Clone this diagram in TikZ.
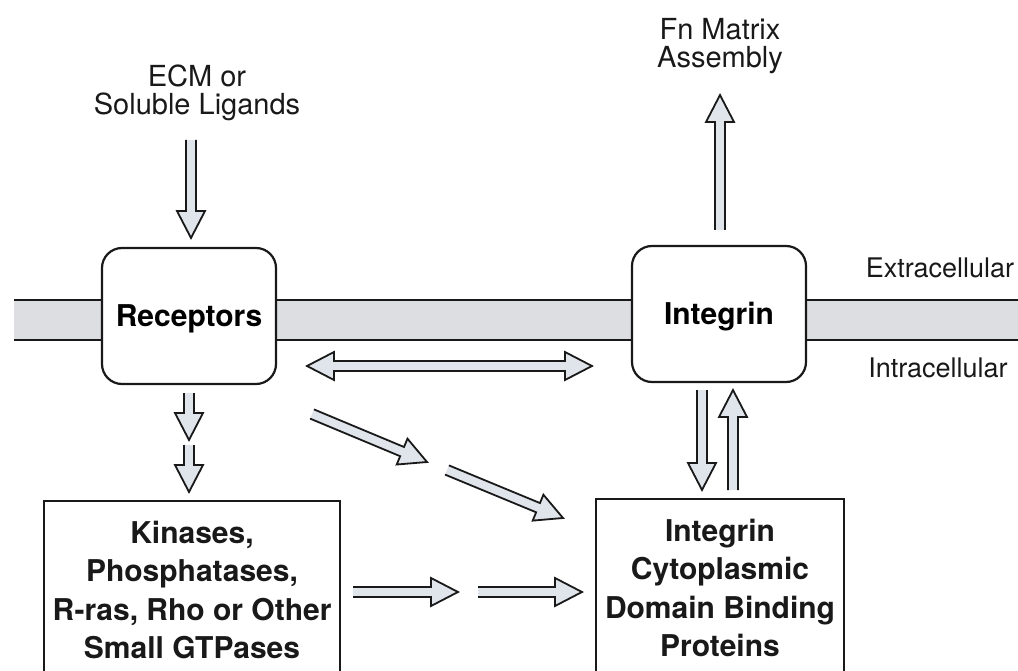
\documentclass[tikz,border=0pt]{standalone}
\usepackage{fontspec}
\setmainfont{TeX Gyre Heros}
\usetikzlibrary{calc}

\definecolor{ink}{rgb}{0.1,0.1,0.1}
\definecolor{membranegray}{RGB}{221,222,226}
\definecolor{arrowgray}{RGB}{224,228,235}

% half shaft width, head length and half head width of the hollow arrows
\newcommand\arrshaft{5pt}
\newcommand\arrhead{27pt}
\newcommand\arrwing{14pt}

% open-tailed hollow arrow from #1 (tail) to #2 (tip)
\newcommand\fatarrow[2]{%
  \coordinate (hb) at ($(#2)!\arrhead!(#1)$);
  \path[arrowbody]
    ($(#1)!\arrshaft!90:(#2)$) -- ($(hb)!\arrshaft!90:(#2)$)
    -- ($(hb)!\arrwing!90:(#2)$) -- (#2)
    -- ($(hb)!\arrwing!-90:(#2)$) -- ($(hb)!\arrshaft!-90:(#2)$)
    -- ($(#1)!\arrshaft!-90:(#2)$);
}
% hollow arrow with a head at both ends, tips #1 and #2
\newcommand\fatdoublearrow[2]{%
  \coordinate (hba) at ($(#1)!\arrhead!(#2)$);
  \coordinate (hbb) at ($(#2)!\arrhead!(#1)$);
  \path[arrowbody]
    (#1) -- ($(hba)!\arrwing!90:(#2)$) -- ($(hba)!\arrshaft!90:(#2)$)
    -- ($(hbb)!\arrshaft!-90:(#1)$) -- ($(hbb)!\arrwing!-90:(#1)$)
    -- (#2)
    -- ($(hbb)!\arrwing!90:(#1)$) -- ($(hbb)!\arrshaft!90:(#1)$)
    -- ($(hba)!\arrshaft!-90:(#2)$) -- ($(hba)!\arrwing!-90:(#2)$)
    -- cycle;
}

\tikzset{
  arrowbody/.style={draw=ink, fill=arrowgray, line width=1.8pt, line join=miter},
  roundbox/.style={draw=ink, fill=white, line width=2.2pt, rounded corners=20pt,
    minimum width=174pt, minimum height=136pt, inner sep=0pt,
    font=\fontsize{30}{36}\selectfont\bfseries, text height=21.5pt, text depth=0pt},
  squarebox/.style={draw=ink, fill=white, line width=2.2pt, inner sep=0pt},
  boldtext/.style={inner sep=0pt, align=center, text=ink,
    font=\fontsize{30}{38.3}\selectfont\bfseries},
  plaintext/.style={inner sep=0pt, align=center, text=ink,
    font=\fontsize{29}{28}\selectfont},
  sidetext/.style={inner sep=0pt, text=ink, font=\fontsize{27}{30}\selectfont},
}

\begin{document}
\begin{tikzpicture}[x=1pt, y=-1pt]
\useasboundingbox (0,0) rectangle (1018,671);
\clip (0,0) rectangle (1018,671);

% cell membrane band
\fill[membranegray] (14,300) rectangle (1030,340);
\draw[ink, line width=1.8pt] (14,300) -- (1030,300) (14,340) -- (1030,340);

% membrane proteins
\node[roundbox] (rec) at (189,316) {Receptors};
\node[roundbox] (int) at (719,314) {Integrin};

% intracellular boxes (continue below the lower edge)
\node[squarebox, minimum width=296pt, minimum height=200pt] (kin) at (192,601) {};
\node[boldtext, anchor=north] (kintxt) at (192,521)
  {Kinases,\\Phosphatases,\\R-ras, Rho or Other\\Small GTPases};
\node[squarebox, minimum width=248pt, minimum height=202pt] (cdbp) at (720,600) {};
\node[boldtext, anchor=north] (cdbptxt) at (720,519)
  {Integrin\\Cytoplasmic\\Domain Binding\\Proteins};

% labels
\node[plaintext, anchor=north] (ecm) at (197,65) {ECM or\\Soluble Ligands};
\node[plaintext, anchor=north] (fn) at (720,18) {Fn Matrix\\Assembly};
\node[sidetext, anchor=base] (extra) at (940,278) {Extracellular};
\node[sidetext, anchor=base] (intra) at (938,377) {Intracellular};

% arrow end points
\coordinate (ecmT) at (191,140);   \coordinate (ecmH) at (191,238);
\coordinate (fnT) at (720,230);    \coordinate (fnH) at (720,95);
\coordinate (recA) at (307,366);   \coordinate (intA) at (592,366);
\coordinate (rd1T) at (189,393);   \coordinate (rd1H) at (189,440);
\coordinate (rd2T) at (189,445);   \coordinate (rd2H) at (189,492);
\coordinate (dg1T) at (312,414);   \coordinate (dg1H) at (427,462);
\coordinate (dg2T) at (447,470);   \coordinate (dg2H) at (563,518);
\coordinate (hz1T) at (353,592);   \coordinate (hz1H) at (458,592);
\coordinate (hz2T) at (478,592);   \coordinate (hz2H) at (582,592);
\coordinate (idT) at (702,390);    \coordinate (idH) at (702,490);
\coordinate (iuT) at (733,490);    \coordinate (iuH) at (733,390);

% signalling arrows
\fatarrow{ecmT}{ecmH}
\fatarrow{fnT}{fnH}
\fatdoublearrow{recA}{intA}
\fatarrow{rd1T}{rd1H}
\fatarrow{rd2T}{rd2H}
\fatarrow{dg1T}{dg1H}
\fatarrow{dg2T}{dg2H}
\fatarrow{hz1T}{hz1H}
\fatarrow{hz2T}{hz2H}
\fatarrow{idT}{idH}
\fatarrow{iuT}{iuH}
\end{tikzpicture}
\end{document}
